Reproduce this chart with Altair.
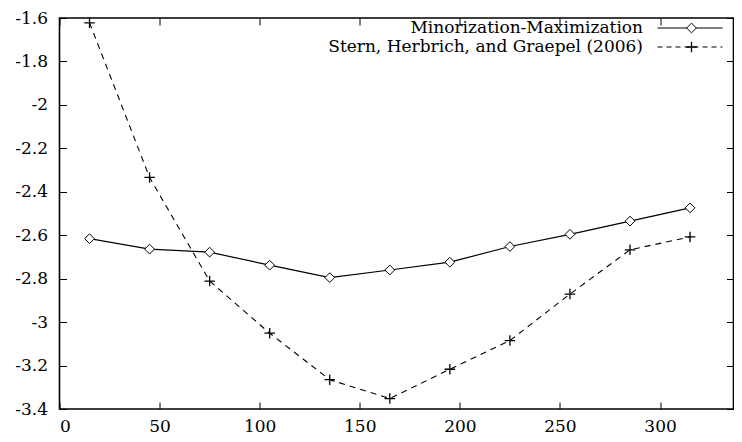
import altair as alt
import pandas as pd

# ---- data ----
x_vals = [15, 45, 75, 105, 135, 165, 195, 225, 255, 285, 315]
mm_y = [-2.616, -2.664, -2.678, -2.738, -2.795, -2.760, -2.724, -2.652, -2.596, -2.535, -2.474]
stern_y = [-1.622, -2.334, -2.811, -3.051, -3.265, -3.352, -3.217, -3.085, -2.871, -2.667, -2.608]
series_names = ["Minorization-Maximization", "Stern, Herbrich, and Graepel (2006)"]
x_ticks = [0, 50, 100, 150, 200, 250, 300]
y_ticks = [-3.4, -3.2, -3.0, -2.8, -2.6, -2.4, -2.2, -2.0, -1.8, -1.6]

mm = pd.DataFrame({"x": x_vals, "y": mm_y})
st = pd.DataFrame({"x": x_vals, "y": stern_y})

FONT = "DejaVu Serif"
FS = 17
TICK = 7
W, H = 674, 391

xs = alt.Scale(domain=[0, 336.7], nice=False, zero=False)
ys = alt.Scale(domain=[-3.4, -1.6], nice=False, zero=False)

ax_bottom = alt.Axis(orient="bottom", values=x_ticks, domain=False, grid=False,
                     offset=-TICK, tickSize=TICK, tickColor="black", tickWidth=1,
                     labelPadding=9, labelFont=FONT, labelFontSize=FS,
                     labelColor="black", title=None, format="d")
ax_left = alt.Axis(orient="left", values=y_ticks, domain=False, grid=False,
                   offset=-TICK, tickSize=TICK, tickColor="black", tickWidth=1,
                   labelPadding=12, labelFont=FONT, labelFontSize=FS,
                   labelColor="black", title=None,
                   labelExpr="'-' + format(-datum.value, '.1~f')")
ax_top = alt.Axis(orient="top", values=x_ticks, domain=False, grid=False,
                  offset=-TICK, tickSize=TICK, tickColor="black", tickWidth=1,
                  labels=False, title=None)
ax_right = alt.Axis(orient="right", values=y_ticks, domain=False, grid=False,
                    offset=-TICK, tickSize=TICK, tickColor="black", tickWidth=1,
                    labels=False, title=None)

mm_line = alt.Chart(mm).mark_line(color="black", strokeWidth=1.2).encode(
    x=alt.X("x:Q", scale=xs, axis=ax_bottom),
    y=alt.Y("y:Q", scale=ys, axis=ax_left),
)
st_line = alt.Chart(st).mark_line(color="black", strokeWidth=1.1, strokeDash=[6, 5]).encode(
    x=alt.X("x:Q", scale=xs, axis=ax_top),
    y=alt.Y("y:Q", scale=ys, axis=ax_right),
)
mm_pts = alt.Chart(mm).mark_point(shape="diamond", filled=True, fill="white", stroke="black",
                                  strokeWidth=1, size=95, opacity=1).encode(
    x=alt.X("x:Q", scale=xs, axis=None),
    y=alt.Y("y:Q", scale=ys, axis=None),
)
PLUS = "M-1,0L1,0M0,-1L0,1"
st_pts = alt.Chart(st).mark_point(shape=PLUS, filled=False, stroke="black",
                                  strokeWidth=1.3, size=110, opacity=1).encode(
    x=alt.X("x:Q", scale=xs, axis=None),
    y=alt.Y("y:Q", scale=ys, axis=None),
)

# ---- gnuplot-style key (top right) ----
ROW1, ROW2 = 10.0, 29.0
TXT_X, L0, L1, SYM = 583.5, 598, 663, 632
one = pd.DataFrame({"a": [0]})

def key_text(label, yy):
    return alt.Chart(pd.DataFrame({"t": [label]})).mark_text(
        align="right", baseline="middle", font=FONT, fontSize=FS, color="black"
    ).encode(x=alt.value(TXT_X), y=alt.value(yy), text="t:N")

k1_txt = key_text(series_names[0], ROW1)
k2_txt = key_text(series_names[1], ROW2)
k1_line = alt.Chart(one).mark_rule(color="black", strokeWidth=1.2).encode(
    x=alt.value(L0), x2=alt.value(L1), y=alt.value(ROW1))
k2_line = alt.Chart(one).mark_rule(color="black", strokeWidth=1.1, strokeDash=[5, 4]).encode(
    x=alt.value(L0), x2=alt.value(L1), y=alt.value(ROW2))
k1_sym = alt.Chart(one).mark_point(shape="diamond", filled=True, fill="white", stroke="black",
                                   strokeWidth=1, size=95, opacity=1).encode(
    x=alt.value(SYM), y=alt.value(ROW1))
k2_sym = alt.Chart(one).mark_point(shape=PLUS, filled=False, stroke="black",
                                   strokeWidth=1.3, size=110, opacity=1).encode(
    x=alt.value(SYM), y=alt.value(ROW2))

chart = alt.layer(
    mm_line, st_line, mm_pts, st_pts,
    k1_line, k2_line, k1_sym, k2_sym, k1_txt, k2_txt,
).resolve_axis(x="independent", y="independent").properties(
    width=W, height=H,
    autosize=alt.AutoSizeParams(type="none"),
    padding={"left": 51.5, "top": 10, "right": 0, "bottom": 32},
    background="white",
).configure_view(stroke="black", strokeWidth=1.6)

chart.save("out.html", embed_options={"renderer": "svg", "actions": False})
